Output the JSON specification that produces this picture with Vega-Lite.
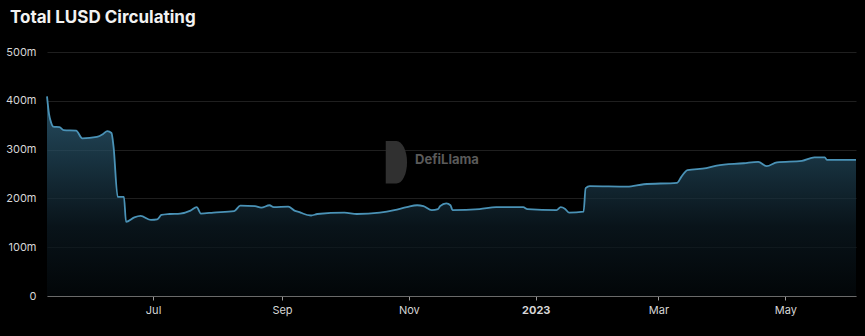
{
  "$schema": "https://vega.github.io/schema/vega-lite/v6.json",
  "autosize": "none",
  "width": 809,
  "height": 244,
  "padding": {"left": 47, "top": 52, "right": 9, "bottom": 40},
  "background": "#000000",
  "title": {
    "text": "Total LUSD Circulating",
    "anchor": "start",
    "frame": "group",
    "dx": -37,
    "offset": 19,
    "font": "Inter",
    "fontSize": 17,
    "fontWeight": "bold",
    "color": "#f2f2f2"
  },
  "config": {
    "view": {"stroke": null},
    "font": "Inter"
  },
  "data": {
    "values": [
      {"date": "2022-05-11", "v": 409},
      {"date": "2022-05-12", "v": 372},
      {"date": "2022-05-13", "v": 355},
      {"date": "2022-05-14", "v": 347},
      {"date": "2022-05-17", "v": 346},
      {"date": "2022-05-19", "v": 340},
      {"date": "2022-05-25", "v": 339},
      {"date": "2022-05-28", "v": 323},
      {"date": "2022-06-04", "v": 326},
      {"date": "2022-06-07", "v": 332},
      {"date": "2022-06-09", "v": 338},
      {"date": "2022-06-11", "v": 334},
      {"date": "2022-06-12", "v": 306},
      {"date": "2022-06-14", "v": 203},
      {"date": "2022-06-17", "v": 203},
      {"date": "2022-06-18", "v": 152},
      {"date": "2022-06-22", "v": 161},
      {"date": "2022-06-25", "v": 164},
      {"date": "2022-06-30", "v": 156},
      {"date": "2022-07-03", "v": 157},
      {"date": "2022-07-05", "v": 166},
      {"date": "2022-07-09", "v": 168},
      {"date": "2022-07-14", "v": 169},
      {"date": "2022-07-19", "v": 175},
      {"date": "2022-07-22", "v": 182},
      {"date": "2022-07-24", "v": 169},
      {"date": "2022-07-30", "v": 171},
      {"date": "2022-08-09", "v": 174},
      {"date": "2022-08-12", "v": 185},
      {"date": "2022-08-19", "v": 184},
      {"date": "2022-08-22", "v": 181},
      {"date": "2022-08-26", "v": 186},
      {"date": "2022-08-28", "v": 182},
      {"date": "2022-09-04", "v": 183},
      {"date": "2022-09-07", "v": 175},
      {"date": "2022-09-10", "v": 171},
      {"date": "2022-09-11", "v": 169},
      {"date": "2022-09-15", "v": 165},
      {"date": "2022-09-18", "v": 168},
      {"date": "2022-10-01", "v": 171},
      {"date": "2022-10-07", "v": 168},
      {"date": "2022-10-18", "v": 171},
      {"date": "2022-10-25", "v": 176},
      {"date": "2022-10-31", "v": 182},
      {"date": "2022-11-05", "v": 186},
      {"date": "2022-11-08", "v": 184},
      {"date": "2022-11-12", "v": 176},
      {"date": "2022-11-15", "v": 178},
      {"date": "2022-11-16", "v": 184},
      {"date": "2022-11-19", "v": 190},
      {"date": "2022-11-21", "v": 186},
      {"date": "2022-11-22", "v": 176},
      {"date": "2022-12-05", "v": 178},
      {"date": "2022-12-13", "v": 182},
      {"date": "2022-12-26", "v": 182},
      {"date": "2022-12-28", "v": 178},
      {"date": "2023-01-11", "v": 176},
      {"date": "2023-01-13", "v": 182},
      {"date": "2023-01-15", "v": 179},
      {"date": "2023-01-17", "v": 171},
      {"date": "2023-01-24", "v": 173},
      {"date": "2023-01-25", "v": 221},
      {"date": "2023-01-27", "v": 225},
      {"date": "2023-02-14", "v": 224},
      {"date": "2023-02-22", "v": 229},
      {"date": "2023-03-10", "v": 232},
      {"date": "2023-03-12", "v": 244},
      {"date": "2023-03-15", "v": 258},
      {"date": "2023-03-24", "v": 262},
      {"date": "2023-03-29", "v": 267},
      {"date": "2023-04-11", "v": 272},
      {"date": "2023-04-18", "v": 275},
      {"date": "2023-04-22", "v": 266},
      {"date": "2023-04-27", "v": 274},
      {"date": "2023-05-09", "v": 277},
      {"date": "2023-05-15", "v": 284},
      {"date": "2023-05-20", "v": 284},
      {"date": "2023-05-21", "v": 279},
      {"date": "2023-06-04", "v": 279}
    ]
  },
  "layer": [
    {
      "mark": {
        "type": "area",
        "interpolate": "monotone",
        "color": {
          "gradient": "linear",
          "x1": 1, "y1": 1, "x2": 1, "y2": 0,
          "stops": [
            {"offset": 0, "color": "#03080b"},
            {"offset": 0.35, "color": "#0d1c25"},
            {"offset": 0.7, "color": "#234a5e"},
            {"offset": 1, "color": "#386f8b"}
          ]
        },
        "line": {"color": "#4a92b6", "strokeWidth": 1.8}
      },
      "encoding": {
        "x": {
          "field": "date",
          "type": "temporal",
          "scale": {"type": "utc", "nice": false},
          "axis": {
            "title": null,
            "values": [
              {"year": 2022, "month": 7, "date": 1, "utc": true},
              {"year": 2022, "month": 9, "date": 1, "utc": true},
              {"year": 2022, "month": 11, "date": 1, "utc": true},
              {"year": 2023, "month": 1, "date": 1, "utc": true},
              {"year": 2023, "month": 3, "date": 1, "utc": true},
              {"year": 2023, "month": 5, "date": 1, "utc": true}
            ],
            "labelExpr": "utcmonth(datum.value) == 0 ? utcFormat(datum.value, '%Y') : utcFormat(datum.value, '%b')",
            "labelFontWeight": {"condition": {"test": "utcmonth(datum.value) == 0", "value": "bold"}, "value": "normal"},
            "labelColor": "#d6d6d6",
            "labelFontSize": 11,
            "labelPadding": 4,
            "grid": false,
            "domainColor": "#6a6a6a",
            "domainWidth": 1,
            "tickColor": "#9a9a9a",
            "tickSize": 4
          }
        },
        "y": {
          "field": "v",
          "type": "quantitative",
          "scale": {"domain": [0, 500], "nice": false},
          "axis": {
            "title": null,
            "values": [0, 100, 200, 300, 400, 500],
            "labelExpr": "datum.value == 0 ? '0' : datum.value + 'm'",
            "labelColor": "#d6d6d6",
            "labelFontSize": 11,
            "labelPadding": 11,
            "domain": false,
            "ticks": false,
            "gridColor": "#1f1f1f",
            "gridWidth": 1
          }
        }
      }
    },
    {
      "data": {"values": [{"date": "2022-10-26", "v": 274}]},
      "mark": {"type": "point", "shape": "M-0.55,-1.1 L0,-1.1 A0.55,1.1 0 0 1 0,1.1 L-0.55,1.1 Z", "filled": true, "size": 1500, "color": "#303030", "opacity": 1},
      "encoding": {
        "x": {"field": "date", "type": "temporal"},
        "y": {"field": "v", "type": "quantitative"}
      }
    },
    {
      "data": {"values": [{"date": "2022-11-04", "v": 279, "t": "DefiLlama"}]},
      "mark": {"type": "text", "align": "left", "baseline": "middle", "font": "Inter", "fontSize": 13, "fontWeight": "bold", "color": "#5a5a5a"},
      "encoding": {
        "x": {"field": "date", "type": "temporal"},
        "y": {"field": "v", "type": "quantitative"},
        "text": {"field": "t"}
      }
    }
  ]
}
